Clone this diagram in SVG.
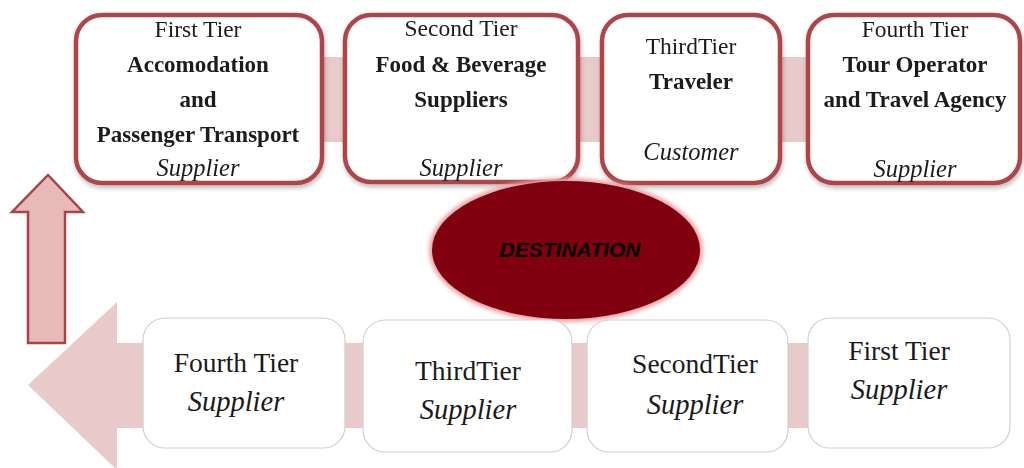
<svg xmlns="http://www.w3.org/2000/svg" width="1024" height="468" viewBox="0 0 1024 468">
<defs>
<style>
.top{fill:#fff;stroke:#B0454A;stroke-width:4.5}
.bot{fill:#fff;stroke:#cfcfcf;stroke-width:1.2}
.band{fill:#E9CACA}
.t{font-family:"Liberation Serif","Times New Roman",serif;fill:#1a1a1a;text-anchor:middle}
.r{font-size:23.5px}
.b{font-size:23px;font-weight:bold}
.i{font-size:24.5px;font-style:italic}
.br{font-size:27.5px}
.bi{font-size:28.5px;font-style:italic}
.dest{font-family:"Liberation Sans",Arial,sans-serif;font-size:21px;font-weight:bold;font-style:italic;fill:#000;text-anchor:middle}
</style>
<filter id="sh" x="-10%" y="-10%" width="120%" height="130%">
<feDropShadow dx="1" dy="3" stdDeviation="2" flood-color="#000" flood-opacity="0.25"/>
</filter>
<filter id="glow" x="-20%" y="-20%" width="140%" height="140%">
<feGaussianBlur stdDeviation="2"/>
</filter>
</defs>
<rect width="1024" height="468" fill="#fff"/>
<g id="connectors">
<rect class="band" x="300" y="57" width="720" height="85"/>
<path class="band" d="M1000,343 L117,343 L117,302 L28,385 L117,470 L117,428 L1000,428 Z"/>
<path d="M28,343 L28,212 L12,212 L48,175 L83,212 L65,212 L65,343 Z" fill="#E8B9B9" stroke="#A84444" stroke-width="2.5"/>
</g>
<g id="top1" filter="url(#sh)">
<rect class="top" x="76" y="15" width="246" height="168" rx="26"/>
<text class="t r" x="198" y="37">First Tier</text>
<text class="t b" x="198" y="72">Accomodation</text>
<text class="t b" x="198" y="107">and</text>
<text class="t b" x="198" y="142">Passenger Transport</text>
<text class="t i" x="198" y="176">Supplier</text>
</g>
<g id="top2" filter="url(#sh)">
<rect class="top" x="345" y="15" width="233" height="167" rx="26"/>
<text class="t r" x="461" y="36">Second Tier</text>
<text class="t b" x="461" y="72">Food &amp; Beverage</text>
<text class="t b" x="461" y="107">Suppliers</text>
<text class="t i" x="461" y="176">Supplier</text>
</g>
<g id="top3" filter="url(#sh)">
<rect class="top" x="602" y="15" width="178" height="168" rx="26"/>
<text class="t r" x="691" y="54">ThirdTier</text>
<text class="t b" x="691" y="89">Traveler</text>
<text class="t i" x="691" y="160">Customer</text>
</g>
<g id="top4" filter="url(#sh)">
<rect class="top" x="808" y="15" width="212" height="168" rx="26"/>
<text class="t r" x="915" y="37">Fourth Tier</text>
<text class="t b" x="915" y="72">Tour Operator</text>
<text class="t b" x="915" y="107">and Travel Agency</text>
<text class="t i" x="915" y="177">Supplier</text>
</g>
<g id="destination">
<ellipse cx="566" cy="250" rx="137" ry="72" fill="#E8A0A0" filter="url(#glow)"/>
<ellipse cx="566" cy="250" rx="134" ry="69" fill="#80000F"/>
<text class="dest" x="570" y="257">DESTINATION</text>
</g>
<g id="bot1">
<rect class="bot" x="143" y="318" width="202" height="130" rx="22"/>
<text class="t br" x="236" y="372">Fourth Tier</text>
<text class="t bi" x="236" y="411">Supplier</text>
</g>
<g id="bot2">
<rect class="bot" x="363" y="320" width="209" height="132" rx="22"/>
<text class="t br" x="468" y="380">ThirdTier</text>
<text class="t bi" x="468" y="419">Supplier</text>
</g>
<g id="bot3">
<rect class="bot" x="587" y="320" width="201" height="132" rx="22"/>
<text class="t br" x="695" y="373">SecondTier</text>
<text class="t bi" x="695" y="414">Supplier</text>
</g>
<g id="bot4">
<rect class="bot" x="808" y="318" width="202" height="130" rx="22"/>
<text class="t br" x="899" y="360">First Tier</text>
<text class="t bi" x="899" y="399">Supplier</text>
</g>
</svg>
